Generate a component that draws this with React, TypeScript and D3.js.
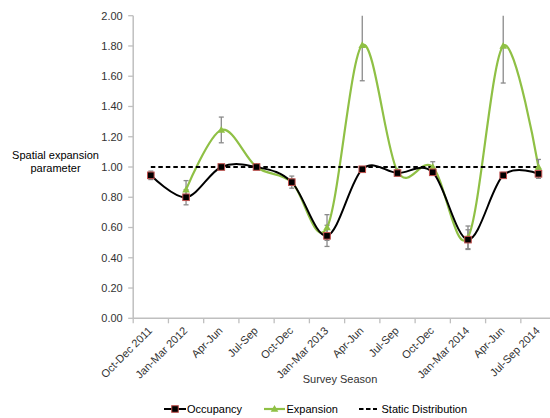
import React from "react";
import * as d3 from "d3";

const categories = [
  "Oct-Dec 2011", "Jan-Mar 2012", "Apr-Jun", "Jul-Sep", "Oct-Dec", "Jan-Mar 2013",
  "Apr-Jun", "Jul-Sep", "Oct-Dec", "Jan-Mar 2014", "Apr-Jun", "Jul-Sep 2014",
];
const occupancy = [0.945, 0.8, 1.0, 1.0, 0.9, 0.545, 0.985, 0.96, 0.965, 0.52, 0.945, 0.955];
const occupancyErr = [0.028, 0.05, 0.01, 0.01, 0.02, 0.07, 0.015, 0.015, 0.015, 0.065, 0.02, 0.03];
const expansion: (number | null)[] = [null, 0.85, 1.245, 1.0, 0.9, 0.6, 1.805, 0.97, 1.0, 0.535, 1.8, 1.0];
const expansionErr: (number | null)[] = [null, 0.06, 0.085, 0.01, 0.04, 0.085, 0.235, 0.015, 0.035, 0.075, 0.245, 0.05];
const staticValue = 1.0;
const yTicks = [0, 0.2, 0.4, 0.6, 0.8, 1.0, 1.2, 1.4, 1.6, 1.8, 2.0];

const W = 550, H = 418;
const left = 133.2, top = 15.7, bottom = 318.3;
const band = 35.24;
const GREEN = "#8FC045";
const FONT = "'Liberation Sans', Arial, sans-serif";

export default function App() {
  const x = d3.scaleBand<number>().domain(categories.map((_, i) => i)).range([left, left + band * 12]);
  const cx = (i: number) => (x(i) as number) + x.bandwidth() / 2;
  const y = d3.scaleLinear().domain([0, 2]).range([bottom, top]);

  const occPts: [number, number][] = occupancy.map((v, i) => [cx(i), y(v)]);
  const expPts: [number, number][] = expansion
    .map((v, i) => (v == null ? null : ([cx(i), y(v)] as [number, number])))
    .filter((p): p is [number, number] => p != null);
  const line = d3.line().curve(d3.curveCatmullRom.alpha(0));

  const clampY = (v: number) => y(Math.min(2, Math.max(0, v)));

  const errBar = (i: number, v: number, e: number, key: string) => {
    const xx = cx(i);
    const y1 = clampY(v + e), y2 = clampY(v - e);
    return (
      <g key={key} stroke="#8a8a8a" strokeWidth={1.3}>
        <line x1={xx} x2={xx} y1={y1} y2={y2} />
        {v + e <= 2 && <line x1={xx - 2.5} x2={xx + 2.5} y1={y1} y2={y1} />}
        <line x1={xx - 2.5} x2={xx + 2.5} y1={y2} y2={y2} />
      </g>
    );
  };

  const square = (px: number, py: number, key: string) => (
    <rect key={key} x={px - 3.3} y={py - 3.3} width={6.6} height={6.6} fill="#000" stroke="#C0504D" strokeWidth={1} />
  );
  const tri = (px: number, py: number, key: string) => (
    <path key={key} d={`M${px},${py - 4}L${px + 3.8},${py + 2.8}L${px - 3.8},${py + 2.8}Z`} fill={GREEN} />
  );

  const boundaries = d3.range(13).map((i) => left + i * band);

  return (
    <svg width={W} height={H} style={{ position: "absolute", left: 0, top: 0, background: "#fff" }} fontFamily={FONT}>
      {/* y axis */}
      <line x1={left} x2={left} y1={top} y2={bottom} stroke="#BFBFBF" strokeWidth={1.5} />
      {yTicks.map((t) => (
        <g key={t}>
          <line x1={left - 5} x2={left} y1={y(t)} y2={y(t)} stroke="#BFBFBF" strokeWidth={1.3} />
          <text x={left - 10.5} y={y(t)} dy="0.35em" textAnchor="end" fontSize={11} fill="#333">
            {t.toFixed(2)}
          </text>
        </g>
      ))}
      {/* x axis */}
      <line x1={left} x2={W} y1={bottom} y2={bottom} stroke="#BFBFBF" strokeWidth={1.5} />
      {boundaries.map((b, i) => (
        <line key={i} x1={b} x2={b} y1={bottom} y2={bottom + 5} stroke="#BFBFBF" strokeWidth={1.3} />
      ))}
      {categories.map((c, i) => (
        <text key={i} transform={`translate(${cx(i) + 2},${bottom + 13}) rotate(-45)`} textAnchor="end" fontSize={11} fill="#333">
          {c}
        </text>
      ))}
      <text x={340} y={383} textAnchor="middle" fontSize={11} fill="#333">Survey Season</text>
      <text x={55.5} y={159} textAnchor="middle" fontSize={11} fill="#000">Spatial expansion</text>
      <text x={55.5} y={172} textAnchor="middle" fontSize={11} fill="#000">parameter</text>

      {/* series lines */}
      <path d={line(expPts) || ""} fill="none" stroke={GREEN} strokeWidth={2.2} />
      <path d={line(occPts) || ""} fill="none" stroke="#000" strokeWidth={2} />
      <line x1={cx(0)} x2={cx(11)} y1={y(staticValue)} y2={y(staticValue)} stroke="#000" strokeWidth={2} strokeDasharray="4.5,3" />

      {/* error bars */}
      {occupancy.map((v, i) => errBar(i, v, occupancyErr[i], "oe" + i))}
      {expansion.map((v, i) => (v == null ? null : errBar(i, v, expansionErr[i] as number, "ee" + i)))}

      {/* markers */}
      {expansion.map((v, i) => (v == null ? null : tri(cx(i), y(v), "t" + i)))}
      {occupancy.map((v, i) => square(cx(i), y(v), "s" + i))}

      {/* legend */}
      <g>
        <line x1={164} x2={186} y1={409} y2={409} stroke="#000" strokeWidth={2} />
        {square(175, 409, "ls")}
        <text x={187} y={413} fontSize={11} fill="#000">Occupancy</text>
        <line x1={264} x2={285} y1={409} y2={409} stroke={GREEN} strokeWidth={2.2} />
        {tri(274.5, 409, "lt")}
        <text x={286.5} y={413} fontSize={11} fill="#000">Expansion</text>
        <line x1={359} x2={377} y1={409} y2={409} stroke="#000" strokeWidth={2} strokeDasharray="4.5,2.5" />
        <text x={381.5} y={413} fontSize={11} fill="#000">Static Distribution</text>
      </g>
    </svg>
  );
}
